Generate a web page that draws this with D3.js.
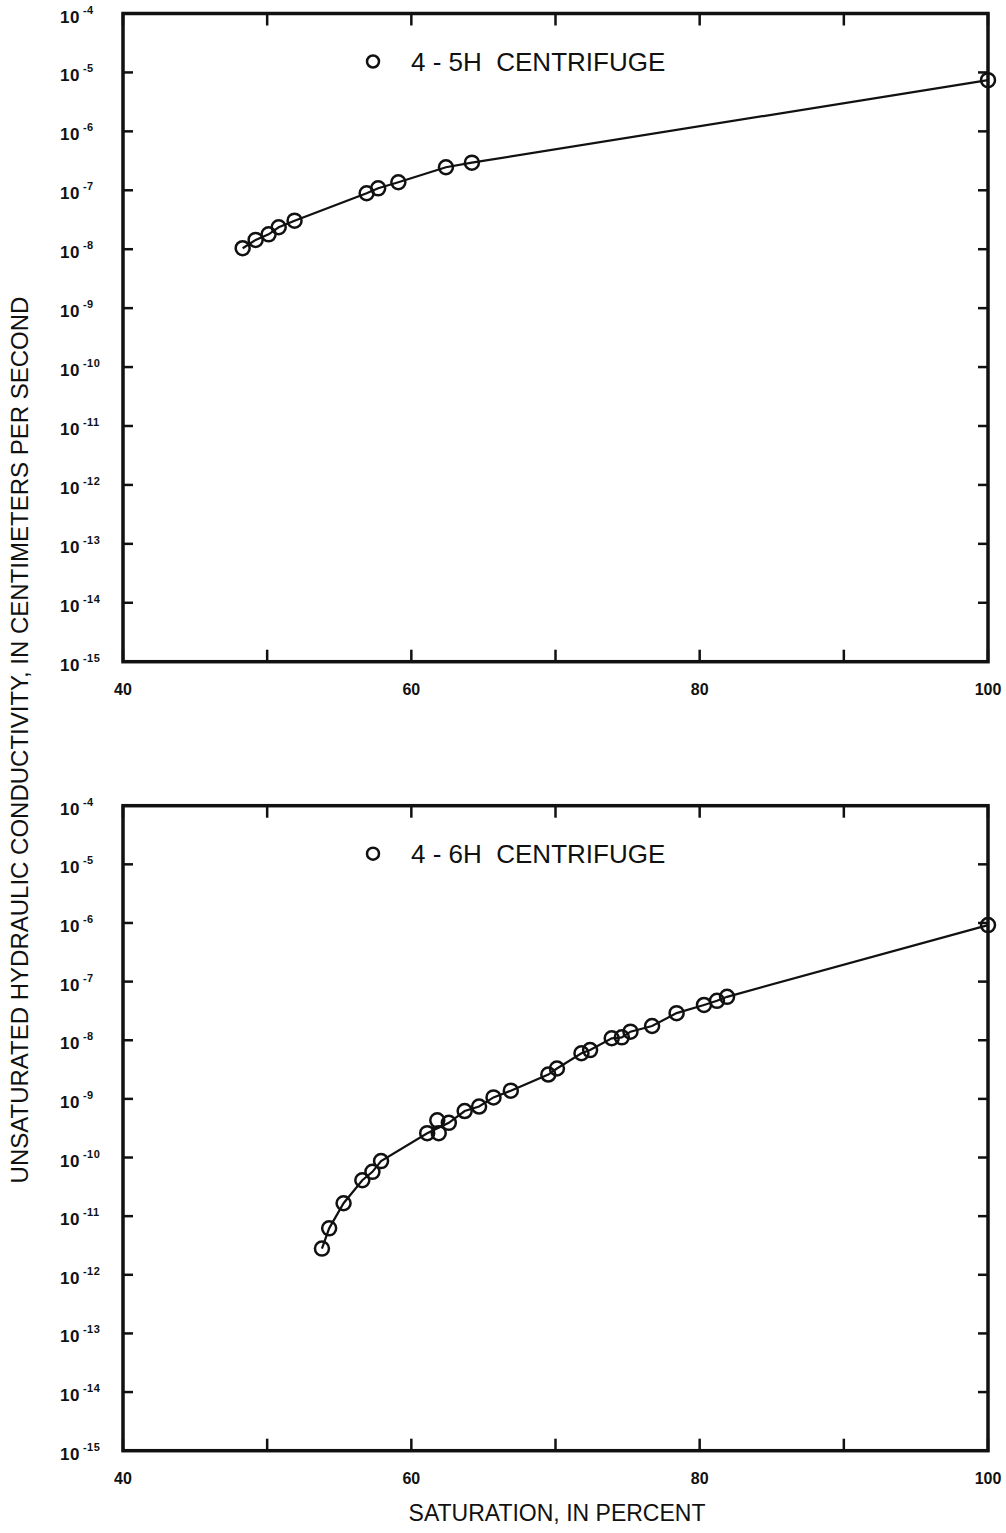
<!DOCTYPE html>
<html>
<head>
<meta charset="UTF-8">
<style>
  body { margin: 0; background: #fff; }
  svg { display: block; }
  text { font-family: "Liberation Sans", Arial, sans-serif; fill: #111; }
</style>
</head>
<body>
<svg></svg>
<script src="https://d3js.org/d3.v7.min.js"></script>
<script>
// data
let topSat = [48.3, 49.2, 50.1, 50.8, 51.9, 56.9, 57.7, 59.1, 62.4, 64.2, 100];
let topK = [1.04e-8, 1.44e-8, 1.79e-8, 2.36e-8, 3.05e-8, 8.9e-8, 1.08e-7, 1.37e-7, 2.46e-7, 2.94e-7, 7.4e-6];

let botSat = [53.8, 54.3, 55.3, 56.6, 57.3, 57.9, 61.1, 61.8, 61.9, 62.6, 63.7, 64.7, 65.7, 66.9,
              69.5, 70.1, 71.8, 72.4, 73.9, 74.6, 75.2, 76.7, 78.4, 80.3, 81.2, 81.9, 100];
let botK = [2.8e-12, 6.2e-12, 1.66e-11, 4.1e-11, 5.7e-11, 8.7e-11, 2.6e-10, 4.3e-10, 2.6e-10, 3.9e-10,
            6.2e-10, 7.4e-10, 1.06e-9, 1.38e-9, 2.6e-9, 3.3e-9, 6.0e-9, 6.8e-9, 1.08e-8, 1.12e-8,
            1.4e-8, 1.75e-8, 2.9e-8, 4.0e-8, 4.7e-8, 5.5e-8, 9.2e-7];
let botSkip = [7, 8]; // points the fitted line passes between

let xTickVals = [40, 50, 60, 70, 80, 90, 100];
let xLabelVals = [40, 60, 80, 100];
let yExps = [-4, -5, -6, -7, -8, -9, -10, -11, -12, -13, -14, -15];

let width = 1006, height = 1533;
let svg = d3.select("svg").attr("width", width).attr("height", height);

let x = d3.scaleLinear().domain([40, 100]).range([123, 988]);

function drawPanel(top, bottom, sat, k, skip, name) {
  let y = d3.scaleLog().domain([1e-15, 1e-4]).range([bottom, top]);
  let g = svg.append("g");

  // inner ticks, left & right
  yExps.forEach(e => {
    let yy = y(Math.pow(10, e));
    g.append("line").attr("x1", x(40)).attr("x2", x(40) + 10).attr("y1", yy).attr("y2", yy)
      .attr("stroke", "#111").attr("stroke-width", 2.5);
    g.append("line").attr("x1", x(100)).attr("x2", x(100) - 10).attr("y1", yy).attr("y2", yy)
      .attr("stroke", "#111").attr("stroke-width", 2.5);
    let t = g.append("text").attr("x", 60).attr("y", yy + 9)
      .style("font-size", "17px").style("font-weight", "bold").style("letter-spacing", "0.5px");
    t.append("tspan").text("10");
    t.append("tspan").attr("dy", -9).attr("dx", 3).style("font-size", "11px").text(e);
  });

  // top & bottom ticks
  xTickVals.forEach(v => {
    g.append("line").attr("x1", x(v)).attr("x2", x(v)).attr("y1", top).attr("y2", top + 12)
      .attr("stroke", "#111").attr("stroke-width", 2.5);
    g.append("line").attr("x1", x(v)).attr("x2", x(v)).attr("y1", bottom).attr("y2", bottom - 12)
      .attr("stroke", "#111").attr("stroke-width", 2.5);
  });
  xLabelVals.forEach(v => {
    g.append("text").attr("x", x(v)).attr("y", bottom + 33)
      .attr("text-anchor", "middle").style("font-size", "16px").style("font-weight", "bold").text(v);
  });

  // frame
  g.append("rect").attr("x", x(40)).attr("y", top)
    .attr("width", x(100) - x(40)).attr("height", bottom - top)
    .attr("fill", "none").attr("stroke", "#111").attr("stroke-width", 3.5);

  let pts = sat.map((s, i) => ({ s: s, k: k[i], i: i }));
  let line = d3.line().x(d => x(d.s)).y(d => y(d.k));
  g.append("path").datum(pts.filter(d => !skip.includes(d.i)))
    .attr("d", line).attr("fill", "none").attr("stroke", "#111").attr("stroke-width", 2.2);

  g.selectAll("circle.pt").data(pts).enter().append("circle")
    .attr("class", "pt")
    .attr("cx", d => x(d.s)).attr("cy", d => y(d.k)).attr("r", 7)
    .attr("fill", "none").attr("stroke", "#111").attr("stroke-width", 2.5);

  // legend
  g.append("circle").attr("cx", 373).attr("cy", top + 48).attr("r", 6)
    .attr("fill", "none").attr("stroke", "#111").attr("stroke-width", 2.5);
  g.append("text").attr("x", 411).attr("y", top + 57)
    .style("font-size", "26px").style("white-space", "pre").text(name);
}

drawPanel(13.5, 661.7, topSat, topK, [], "4 - 5H  CENTRIFUGE");
drawPanel(805.7, 1450.7, botSat, botK, botSkip, "4 - 6H  CENTRIFUGE");

svg.append("text")
  .attr("transform", "translate(28,740) rotate(-90)")
  .attr("text-anchor", "middle").style("font-size", "24px")
  .text("UNSATURATED HYDRAULIC CONDUCTIVITY, IN CENTIMETERS PER SECOND");

svg.append("text").attr("x", 557).attr("y", 1521)
  .attr("text-anchor", "middle").style("font-size", "23px")
  .text("SATURATION, IN PERCENT");
</script>
</body>
</html>
